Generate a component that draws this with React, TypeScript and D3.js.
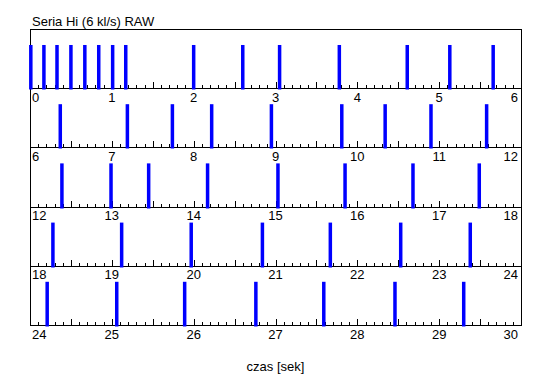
import React from "react";
import * as d3 from "d3";

const title = "Seria Hi (6 kl/s) RAW";
const xAxisLabel = "czas [sek]";
const secondsPerRow = 6;
const rowCount = 5;

// spike times in seconds
const spikeTimes = [
  0.01, 0.17, 0.33, 0.5, 0.67, 0.84, 1.01, 1.17, 2.0, 2.6, 3.05, 3.78, 4.61, 5.13, 5.66,
  6.37, 7.19, 7.74, 8.22, 8.95, 9.81, 10.34, 10.9, 11.58,
  12.39, 12.99, 13.45, 14.17, 15.03, 15.85, 16.68, 17.49,
  18.28, 19.12, 19.97, 20.84, 21.67, 22.53, 23.38,
  24.21, 25.06, 25.89, 26.76, 27.59, 28.46, 29.3,
];
const spikeAmplitude = 1;

const W = 550;
const H = 389;
const left = 30;
const right = 521;
const top = 29;
const rowH = 59.2;
const font = "'Liberation Sans', Arial, sans-serif";

export default function App() {
  const rows = d3.range(rowCount);
  const yScale = (r: number) =>
    d3.scaleLinear().domain([0, 1.37]).range([top + rowH * (r + 1), top + rowH * r]);
  const xScale = (r: number) =>
    d3.scaleLinear().domain([r * secondsPerRow, (r + 1) * secondsPerRow]).range([left, right]);

  return (
    <svg
      width={W}
      height={H}
      style={{ position: "absolute", left: 0, top: 0, background: "#fff" }}
      fontFamily={font}
    >
      <rect width={W} height={H} fill="#fff" />
      <text x={32} y={25.5} fontSize={13} fill="#000">{title}</text>
      <g shapeRendering="crispEdges" stroke="#000" fill="none">
        <line x1={left + 0.5} x2={left + 0.5} y1={top} y2={top + rowH * rowCount} />
        <line x1={right + 0.5} x2={right + 0.5} y1={top} y2={top + rowH * rowCount} />
        <line x1={left} x2={right + 1} y1={top + 0.5} y2={top + 0.5} />
      </g>
      {rows.map((r) => {
        const x = xScale(r);
        const base = top + rowH * (r + 1);
        const t0 = r * secondsPerRow;
        const minor = d3.range(0, 61).map((i) => t0 + i / 10);
        const majors = d3.range(0, 7).map((i) => t0 + i);
        return (
          <g key={r}>
            <g shapeRendering="crispEdges" stroke="#000">
              {minor.map((t, i) => (
                <line
                  key={i}
                  x1={Math.round(x(t)) + 0.5}
                  x2={Math.round(x(t)) + 0.5}
                  y1={Math.round(base)}
                  y2={Math.round(base) - (i % 5 === 0 ? 6 : 3)}
                />
              ))}
              <line x1={left} x2={right + 1} y1={Math.round(base) + 0.5} y2={Math.round(base) + 0.5} />
            </g>
            {majors.map((t, i) => (
              <text
                key={i}
                x={i === 0 ? left + 2 : i === 6 ? right - 3 : x(t)}
                y={base + 13.5}
                fontSize={13}
                textAnchor={i === 0 ? "start" : i === 6 ? "end" : "middle"}
                fill="#000"
              >
                {t}
              </text>
            ))}
          </g>
        );
      })}
      {rows.map((r) => {
        const x = xScale(r);
        const y = yScale(r);
        const base = Math.round(top + rowH * (r + 1)) + 1.5;
        const t0 = r * secondsPerRow;
        const spikes = spikeTimes.filter((t) => t >= t0 && t < t0 + secondsPerRow);
        return (
          <g key={"s" + r}>
            {spikes.map((t, i) => (
              <rect
                key={i}
                x={x(t) - 1.75}
                width={3.5}
                y={y(spikeAmplitude)}
                height={base - y(spikeAmplitude)}
                fill="#0000ff"
              />
            ))}
          </g>
        );
      })}
      <text x={(left + right) / 2} y={371} fontSize={13} textAnchor="middle" fill="#000">
        {xAxisLabel}
      </text>
    </svg>
  );
}
